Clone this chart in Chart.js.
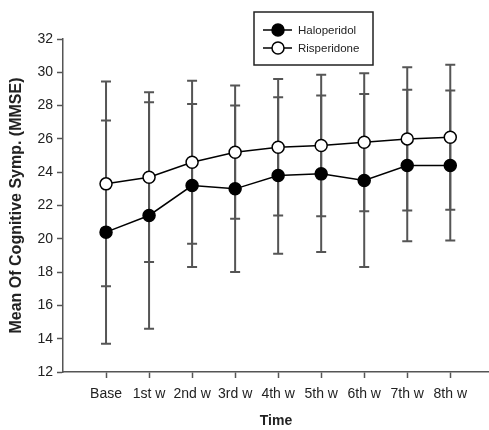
<!DOCTYPE html>
<html lang="en">
<head>
    <meta charset="UTF-8">
    <script src="https://cdn.jsdelivr.net/npm/chart.js"></script>
    <title>MMSE over time</title>
    <style>
        body { margin: 0; background: #fff; }
        #wrap { position: relative; width: 489px; height: 430px; }
    </style>
</head>
<body>
    <div id="wrap">
        <canvas id="myChart" width="489" height="430"></canvas>
    </div>
    <script>
        // data
        const weeks = ['Base', '1st w', '2nd w', '3rd w', '4th w', '5th w', '6th w', '7th w', '8th w'];
        const haloMean = [20.4, 21.4, 23.2, 23.0, 23.8, 23.9, 23.5, 24.4, 24.4];
        const haloSD = [6.7, 6.8, 4.9, 5.0, 4.7, 4.7, 5.2, 4.55, 4.5];
        const risMean = [23.3, 23.7, 24.6, 25.2, 25.5, 25.6, 25.8, 26.0, 26.1];
        const risSD = [6.15, 5.1, 4.9, 4.0, 4.1, 4.25, 4.15, 4.3, 4.35];
        const yTicks = [12, 14, 16, 18, 20, 22, 24, 26, 28, 30, 32];

        const fontFam = '"Liberation Sans", Arial, sans-serif';

        const toPoints = (arr) => arr.map((v, i) => ({ x: i, y: v }));

        // error bars, drawn behind the markers
        const errorBars = {
            id: 'errorBars',
            beforeDatasetsDraw(chart) {
                const ctx = chart.ctx;
                const y = chart.scales.y;
                ctx.save();
                ctx.strokeStyle = '#555';
                ctx.lineWidth = 2;
                chart.data.datasets.forEach((ds, i) => {
                    const meta = chart.getDatasetMeta(i);
                    meta.data.forEach((pt, j) => {
                        const top = y.getPixelForValue(ds.mean[j] + ds.sd[j]);
                        const bot = y.getPixelForValue(ds.mean[j] - ds.sd[j]);
                        ctx.beginPath();
                        ctx.moveTo(pt.x, top);
                        ctx.lineTo(pt.x, bot);
                        ctx.moveTo(pt.x - 5, top);
                        ctx.lineTo(pt.x + 5, top);
                        ctx.moveTo(pt.x - 5, bot);
                        ctx.lineTo(pt.x + 5, bot);
                        ctx.stroke();
                    });
                });
                ctx.restore();
            }
        };

        // boxed legend sitting inside the plot
        const boxLegend = {
            id: 'boxLegend',
            afterDraw(chart) {
                const ctx = chart.ctx;
                ctx.save();
                ctx.fillStyle = '#fff';
                ctx.fillRect(254, 12, 119, 53);
                ctx.strokeStyle = '#222';
                ctx.lineWidth = 1.5;
                ctx.strokeRect(254, 12, 119, 53);
                chart.data.datasets.forEach((ds, i) => {
                    const cy = 30 + i * 18;
                    ctx.strokeStyle = '#000';
                    ctx.lineWidth = 1.5;
                    ctx.beginPath();
                    ctx.moveTo(263, cy);
                    ctx.lineTo(292, cy);
                    ctx.stroke();
                    ctx.beginPath();
                    ctx.arc(278, cy, 6, 0, Math.PI * 2);
                    ctx.fillStyle = ds.pointBackgroundColor;
                    ctx.fill();
                    ctx.stroke();
                    ctx.fillStyle = '#222';
                    ctx.font = '11.5px ' + fontFam;
                    ctx.textBaseline = 'middle';
                    ctx.fillText(ds.label, 298, cy + 1);
                });
                ctx.restore();
            }
        };

        const config = {
            type: 'line',
            data: {
                datasets: [{
                    label: 'Haloperidol',
                    data: toPoints(haloMean),
                    mean: haloMean,
                    sd: haloSD,
                    borderColor: '#000',
                    borderWidth: 1.5,
                    pointRadius: 6,
                    pointBorderWidth: 1.5,
                    pointBorderColor: '#000',
                    pointBackgroundColor: '#000'
                }, {
                    label: 'Risperidone',
                    data: toPoints(risMean),
                    mean: risMean,
                    sd: risSD,
                    borderColor: '#000',
                    borderWidth: 1.5,
                    pointRadius: 6,
                    pointBorderWidth: 1.5,
                    pointBorderColor: '#000',
                    pointBackgroundColor: '#fff'
                }]
            },
            options: {
                responsive: false,
                animation: false,
                layout: {
                    autoPadding: false,
                    padding: { top: 39, right: 0, left: 0, bottom: 0 }
                },
                plugins: {
                    legend: { display: false },
                    tooltip: { enabled: false }
                },
                scales: {
                    x: {
                        type: 'linear',
                        min: -1,
                        max: 8.9,
                        afterBuildTicks: (scale) => {
                            scale.ticks = weeks.map((w, i) => ({ value: i }));
                        },
                        afterFit: (scale) => {
                            scale.height = 58;
                            scale.paddingLeft = 0;
                            scale.paddingRight = 0;
                        },
                        border: { color: '#555', width: 1.5 },
                        grid: { drawOnChartArea: false, tickLength: 6, tickColor: '#555', tickWidth: 1.5 },
                        ticks: {
                            autoSkip: false,
                            maxRotation: 0,
                            padding: 8,
                            color: '#222',
                            font: { family: fontFam, size: 14 },
                            callback: (v) => weeks[v]
                        },
                        title: {
                            display: true,
                            text: 'Time',
                            color: '#222',
                            font: { family: fontFam, size: 14, weight: 'bold' },
                            padding: { top: 0, bottom: 0 }
                        }
                    },
                    y: {
                        min: 12,
                        max: 32,
                        afterBuildTicks: (scale) => {
                            scale.ticks = yTicks.map(v => ({ value: v }));
                        },
                        afterFit: (scale) => { scale.width = 63; },
                        border: { color: '#555', width: 1.5 },
                        grid: { drawOnChartArea: false, tickLength: 6, tickColor: '#555', tickWidth: 1.5 },
                        ticks: {
                            padding: 4,
                            color: '#222',
                            font: { family: fontFam, size: 14 }
                        },
                        title: {
                            display: true,
                            text: 'Mean Of Cognitive Symp. (MMSE)',
                            color: '#222',
                            font: { family: fontFam, size: 16, weight: 'bold' },
                            padding: { top: 7, bottom: 0 }
                        }
                    }
                }
            },
            plugins: [errorBars, boxLegend]
        };

        const myChart = new Chart(document.getElementById('myChart'), config);
    </script>
</body>
</html>
